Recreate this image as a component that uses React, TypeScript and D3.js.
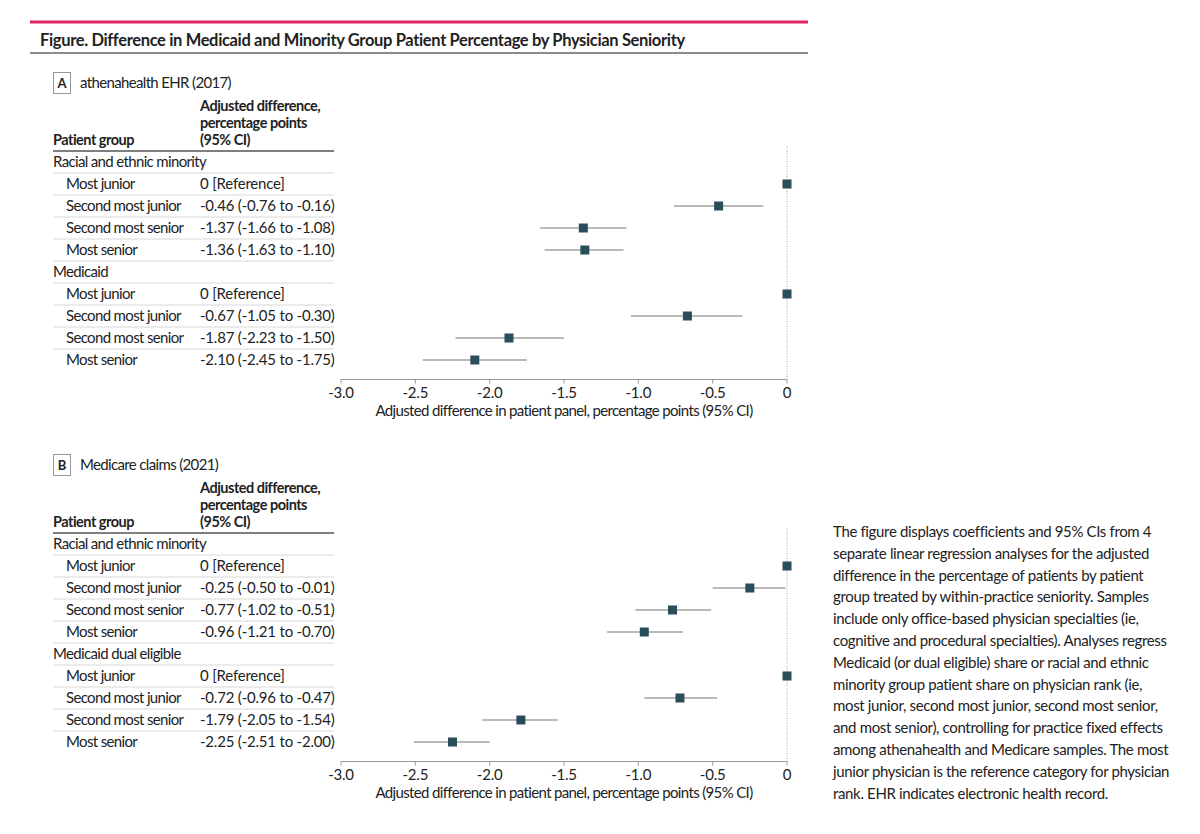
import * as d3 from "d3";

// seniority levels, same order in both panels
const levels = ["Most junior", "Second most junior", "Second most senior", "Most senior"];

// panel A: athenahealth EHR (2017)
const groupsA = ["Racial and ethnic minority", "Medicaid"];
const estA = [0, -0.46, -1.37, -1.36, 0, -0.67, -1.87, -2.1];
const lowA = [0, -0.76, -1.66, -1.63, 0, -1.05, -2.23, -2.45];
const highA = [0, -0.16, -1.08, -1.1, 0, -0.3, -1.5, -1.75];

// panel B: Medicare claims (2021)
const groupsB = ["Racial and ethnic minority", "Medicaid dual eligible"];
const estB = [0, -0.25, -0.77, -0.96, 0, -0.72, -1.79, -2.25];
const lowB = [0, -0.5, -1.02, -1.21, 0, -0.96, -2.05, -2.51];
const highB = [0, -0.01, -0.51, -0.7, 0, -0.47, -1.54, -2.0];

const xTicks = [-3, -2.5, -2, -1.5, -1, -0.5, 0];

const captionLines = [
  "The figure displays coefficients and 95% CIs from 4",
  "separate linear regression analyses for the adjusted",
  "difference in the percentage of patients by patient",
  "group treated by within-practice seniority. Samples",
  "include only office-based physician specialties (ie,",
  "cognitive and procedural specialties). Analyses regress",
  "Medicaid (or dual eligible) share or racial and ethnic",
  "minority group patient share on physician rank (ie,",
  "most junior, second most junior, second most senior,",
  "and most senior), controlling for practice fixed effects",
  "among athenahealth and Medicare samples. The most",
  "junior physician is the reference category for physician",
  "rank. EHR indicates electronic health record.",
];

const font = "Lato, 'Open Sans', sans-serif";
const ink = "#222";
const markColor = "#2a4d5a";
// the original face is condensed, so tighten Lato a little
const tight = -0.65;

// plain hyphen for negatives, as in the figure
const fmt = (d: number) => d3.format(".2f")(d).replace("\u2212", "-");
const tickFmt = (d: number) => (d === 0 ? "0" : d3.format(".1f")(d).replace("\u2212", "-"));

function Panel({ letter, source, groups, est, low, high, dy }) {
  const x = d3.scaleLinear([-3, 0], [341, 787]);
  const y = d3.scaleLinear([0, 9], [162, 360]);

  const rows = [];
  groups.forEach((g, gi) => {
    rows.push({ kind: "group", label: g });
    levels.forEach((lv, li) => {
      const k = gi * 4 + li;
      rows.push({
        kind: "level",
        label: lv,
        est: est[k],
        low: low[k],
        high: high[k],
        ref: li === 0,
      });
    });
  });

  const axisY = 379.5;

  return (
    <g transform={`translate(0, ${dy})`} fontFamily={font} fill={ink}>
      <rect x={53.5} y={72.5} width={17} height={21} fill="none" stroke="#999" />
      <text x={62} y={88} textAnchor="middle" fontWeight="bold" fontSize={13}>
        {letter}
      </text>
      <text x={80} y={88} fontSize={15} letterSpacing={tight}>
        {source}
      </text>

      <g fontWeight="bold" fontSize={14.5} letterSpacing={-0.5}>
        <text x={200} y={111}>Adjusted difference,</text>
        <text x={200} y={128}>percentage points</text>
        <text x={200} y={145}>(95% CI)</text>
        <text x={53} y={145}>Patient group</text>
      </g>
      <line x1={53} x2={334} y1={151} y2={151} stroke="#555" strokeWidth={1.5} />

      {rows.map((r, i) => (
        <g key={i} fontSize={15}>
          <text x={r.kind === "group" ? 53 : 66} y={y(i) + 5} letterSpacing={tight}>
            {r.label}
          </text>
          {r.kind === "level" && (
            <text x={200} y={y(i) + 5} letterSpacing={-0.2}>
              {r.ref ? "0 [Reference]" : `${fmt(r.est)} (${fmt(r.low)} to ${fmt(r.high)})`}
            </text>
          )}
          {i < rows.length - 1 && (
            <line x1={53} x2={334} y1={y(i) + 11} y2={y(i) + 11} stroke="#d8d8d8" />
          )}
        </g>
      ))}

      {/* reference line at zero */}
      <line x1={x(0)} x2={x(0)} y1={146} y2={axisY} stroke="#aaa" strokeDasharray="1,1.5" />

      {rows.map((r, i) =>
        r.kind === "level" ? (
          <g key={"m" + i}>
            {!r.ref && (
              <line x1={x(r.low)} x2={x(r.high)} y1={y(i)} y2={y(i)} stroke="#777" strokeWidth={1.2} />
            )}
            <rect x={x(r.est) - 4.5} y={y(i) - 4.5} width={9} height={9} fill={markColor} />
          </g>
        ) : null
      )}

      <line x1={x(-3)} x2={x(0)} y1={axisY} y2={axisY} stroke="#999" strokeWidth={1.2} />
      {xTicks.map((t) => (
        <g key={t} transform={`translate(${x(t)}, ${axisY})`}>
          <line y1={0} y2={4} stroke="#999" />
          <text y={18} textAnchor="middle" fontSize={15} letterSpacing={-0.2}>
            {tickFmt(t)}
          </text>
        </g>
      ))}
      <text
        x={(x(-3) + x(0)) / 2}
        y={416}
        textAnchor="middle"
        fontSize={15}
        letterSpacing={tight}
      >
        Adjusted difference in patient panel, percentage points (95% CI)
      </text>
    </g>
  );
}

export default function App() {
  return (
    <svg
      width={1200}
      height={834}
      style={{ position: "absolute", left: 0, top: 0, background: "#fff" }}
    >
      <rect width={1200} height={834} fill="#fff" />
      <line x1={30} x2={808} y1={22} y2={22} stroke="#e0245e" strokeWidth={3} />
      <text
        x={40}
        y={46}
        fontFamily={font}
        fontSize={16.5}
        fontWeight="bold"
        letterSpacing={-0.35}
        fill={ink}
      >
        Figure. Difference in Medicaid and Minority Group Patient Percentage by Physician Seniority
      </text>
      <line x1={30} x2={808} y1={53} y2={53} stroke="#666" strokeWidth={1.5} />

      <Panel
        letter="A"
        source="athenahealth EHR (2017)"
        groups={groupsA}
        est={estA}
        low={lowA}
        high={highA}
        dy={0}
      />
      <Panel
        letter="B"
        source="Medicare claims (2021)"
        groups={groupsB}
        est={estB}
        low={lowB}
        high={highB}
        dy={382}
      />

      <g fontFamily={font} fontSize={15} letterSpacing={-0.35} fill={ink}>
        {captionLines.map((l, i) => (
          <text key={i} x={833} y={537 + i * 21.8}>
            {l}
          </text>
        ))}
      </g>
    </svg>
  );
}
